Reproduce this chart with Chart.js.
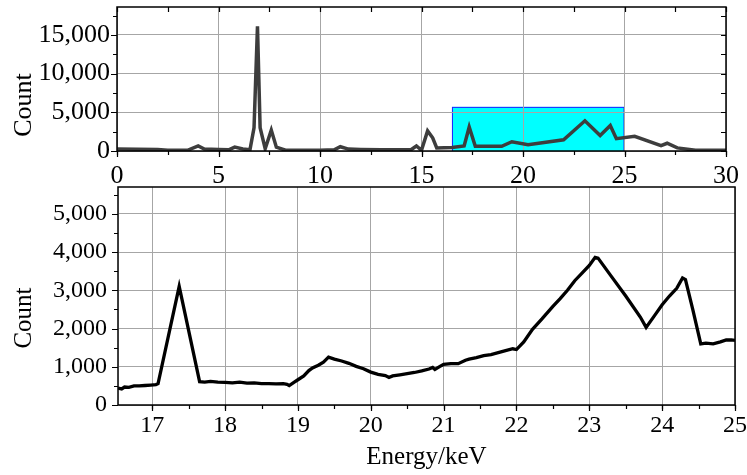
<!DOCTYPE html>
<html>
<head>
<meta charset="utf-8">
<script src="https://cdn.jsdelivr.net/npm/chart.js@4.4.1/dist/chart.umd.min.js"></script>
<style>
  body { margin: 0; background: #fff; }
  #wrap { position: relative; width: 747px; height: 475px; }
  #overview { position: absolute; left: 0; top: 0; }
  #detail { position: absolute; left: 0; top: 180px; }
</style>
</head>
<body>
<div id="wrap">
  <canvas id="overview" width="747" height="190"></canvas>
  <canvas id="detail" width="747" height="295"></canvas>
</div>
<script>
// full spectrum (top panel)
const energyOverview = [0, 1, 2, 2.5, 3.5, 4.0, 4.3, 5.0, 5.5, 5.8, 6.2, 6.55, 6.75, 6.92, 7.05, 7.3, 7.6, 7.85, 8.3,
  10, 10.7, 11.0, 11.4, 12, 13, 14.0, 14.5, 14.75, 15.0, 15.3, 15.55, 15.75, 16.5, 17.1, 17.35, 17.65, 18.95,
  19.45, 20.25, 22.0, 23.05, 23.8, 24.3, 24.6, 25.5, 26.8, 27.1, 27.6, 28.5, 30];
const countOverview = [250, 230, 180, 100, 120, 650, 250, 200, 150, 500, 250, 150, 3000, 16100, 3000, 300, 2700, 500, 100,
  100, 150, 550, 250, 200, 150, 150, 200, 650, 100, 2600, 1700, 400, 450, 650, 3100, 600, 600,
  1200, 800, 1450, 3900, 2000, 3300, 1600, 1900, 700, 1000, 400, 100, 100];

// zoomed region (bottom panel)
const energyZoom = [16.53, 16.58, 16.62, 16.68, 16.75, 16.82, 16.9, 16.98, 17.05, 17.08, 17.37, 17.65, 17.72, 17.8, 17.9,
  18.0, 18.1, 18.2, 18.3, 18.4, 18.5, 18.6, 18.7, 18.8, 18.85, 18.88, 18.95, 19.0, 19.08, 19.15, 19.2, 19.28, 19.35,
  19.42, 19.5, 19.6, 19.7, 19.8, 19.9, 20.0, 20.1, 20.2, 20.25, 20.3, 20.4, 20.5, 20.6, 20.7, 20.8, 20.85, 20.88,
  20.95, 21.0, 21.1, 21.2, 21.3, 21.35, 21.45, 21.55, 21.65, 21.75, 21.85, 21.95, 22.0, 22.1, 22.22, 22.35, 22.5,
  22.6, 22.7, 22.8, 22.9, 23.0, 23.08, 23.12, 23.3, 23.5, 23.7, 23.78, 23.9, 24.0, 24.1, 24.2, 24.28, 24.32, 24.42,
  24.53, 24.6, 24.7, 24.8, 24.88, 24.95, 25.0];
const countZoom = [440, 420, 470, 460, 500, 500, 510, 520, 530, 560, 3100, 610, 600, 620, 600,
  590, 580, 600, 570, 580, 560, 560, 550, 560, 540, 510, 600, 660, 760, 900, 970, 1040, 1120,
  1250, 1200, 1150, 1090, 1010, 950, 860, 800, 770, 720, 760, 790, 820, 850, 890, 940, 980, 930,
  1010, 1060, 1080, 1080, 1170, 1200, 1240, 1290, 1320, 1370, 1420, 1470, 1450, 1650, 1980, 2250, 2580,
  2780, 3000, 3250, 3450, 3650, 3860, 3840, 3370, 2850, 2300, 2030, 2350, 2620, 2850, 3050, 3320, 3280, 2500,
  1600, 1620, 1600, 1650, 1700, 1700, 1690];

// tick labels
const xTicksOverview = [0, 5, 10, 15, 20, 25, 30];
const yTicksOverview = [0, 5000, 10000, 15000];
const xTicksZoom = [17, 18, 19, 20, 21, 22, 23, 24, 25];
const yTicksZoom = [0, 1000, 2000, 3000, 4000, 5000];

// highlighted window shown in the overview
const zoomRange = [16.5, 25];
const zoomTop = 5700;

const FONT = '"Liberation Serif", "Times New Roman", serif';
const GRID = '#a6a6a6';
Chart.defaults.font.family = FONT;
Chart.defaults.color = '#000';

function toPoints(xs, ys) {
  return xs.map((x, i) => ({ x: x, y: ys[i] }));
}

function fixedTicks(values) {
  return (scale) => { scale.ticks = values.map((v) => ({ value: v })); };
}

// keep the plot area where the layout padding puts it
function noPad(s) {
  s.paddingTop = 0; s.paddingBottom = 0; s.paddingLeft = 0; s.paddingRight = 0;
}

function fmt(v) {
  return Number(v).toLocaleString('en-US');
}

// tick marks along one edge; dir = +1 outward / -1 inward
function edgeTicks(ctx, scale, step, len, edge, area, dir) {
  const lo = Math.ceil(scale.min / step - 1e-9);
  const hi = Math.floor(scale.max / step + 1e-9);
  ctx.beginPath();
  for (let k = lo; k <= hi; k++) {
    const p = Math.round(scale.getPixelForValue(k * step)) + 0.5;
    if (edge === 'bottom') { ctx.moveTo(p, area.bottom); ctx.lineTo(p, area.bottom + dir * len); }
    if (edge === 'top') { ctx.moveTo(p, area.top); ctx.lineTo(p, area.top - dir * len); }
    if (edge === 'left') { ctx.moveTo(area.left, p); ctx.lineTo(area.left - dir * len, p); }
    if (edge === 'right') { ctx.moveTo(area.right, p); ctx.lineTo(area.right + dir * len, p); }
  }
  ctx.stroke();
}

function framePlugin(cfg) {
  return {
    id: 'frame',
    afterDraw(chart) {
      const ctx = chart.ctx;
      const a = chart.chartArea;
      const x = chart.scales.x, y = chart.scales.y;
      ctx.save();
      ctx.strokeStyle = '#000';
      ctx.lineWidth = 1.5;
      ctx.strokeRect(a.left, a.top, a.right - a.left, a.bottom - a.top);
      ctx.lineWidth = 1.2;
      edgeTicks(ctx, x, cfg.xMajor, 6, 'bottom', a, 1);
      edgeTicks(ctx, x, cfg.xMinor, 4, 'bottom', a, 1);
      edgeTicks(ctx, y, cfg.yMajor, 6, 'left', a, 1);
      edgeTicks(ctx, y, cfg.yMinor, 4, 'left', a, 1);
      if (cfg.mirror) {
        edgeTicks(ctx, x, cfg.xMinor, 5, 'top', a, -1);
        edgeTicks(ctx, y, cfg.yMinor, 5, 'right', a, -1);
      }
      // y title
      ctx.fillStyle = '#000';
      ctx.font = cfg.titleSize + 'px ' + FONT;
      ctx.textAlign = 'center';
      ctx.textBaseline = 'middle';
      ctx.translate(cfg.titleX, cfg.titleY);
      ctx.rotate(-Math.PI / 2);
      ctx.fillText('Count', 0, 0);
      ctx.restore();
    }
  };
}

const windowPlugin = {
  id: 'zoomWindow',
  beforeDraw(chart) {
    const ctx = chart.ctx;
    const x = chart.scales.x, y = chart.scales.y;
    const x0 = x.getPixelForValue(zoomRange[0]);
    const x1 = x.getPixelForValue(zoomRange[1]);
    const y0 = y.getPixelForValue(0);
    const y1 = y.getPixelForValue(zoomTop);
    ctx.save();
    ctx.fillStyle = '#00ffff';
    ctx.fillRect(x0, y1, x1 - x0, y0 - y1);
    ctx.strokeStyle = '#2020ff';
    ctx.lineWidth = 1;
    ctx.strokeRect(x0 + 0.5, y1 + 0.5, x1 - x0 - 1, y0 - y1);
    ctx.restore();
  }
};

// top panel
new Chart(document.getElementById('overview'), {
  type: 'line',
  data: {
    datasets: [{
      data: toPoints(energyOverview, countOverview),
      borderColor: '#3d3d3d',
      borderWidth: 3.5,
      pointRadius: 0,
      tension: 0
    }]
  },
  options: {
    responsive: false,
    animation: false,
    devicePixelRatio: 1,
    layout: { padding: { top: 7, right: 21, left: 0, bottom: 0 } },
    plugins: { legend: { display: false }, tooltip: { enabled: false } },
    scales: {
      x: {
        type: 'linear',
        min: 0,
        max: 30,
        afterBuildTicks: fixedTicks(xTicksOverview),
        afterFit: (s) => { s.height = 39; noPad(s); },
        grid: { color: GRID, lineWidth: 1, drawTicks: false },
        ticks: { padding: 10, font: { size: 26 }, maxRotation: 0, autoSkip: false }
      },
      y: {
        min: 0,
        max: 18600,
        afterBuildTicks: fixedTicks(yTicksOverview),
        afterFit: (s) => { s.width = 117; noPad(s); },
        grid: { color: GRID, lineWidth: 1, drawTicks: false },
        ticks: { padding: 7, autoSkip: false, font: { size: 26 }, callback: (v) => fmt(v) }
      }
    }
  },
  plugins: [windowPlugin, framePlugin({ xMajor: 5, xMinor: 2.5, yMajor: 5000, yMinor: 2500, mirror: true, titleX: 24, titleY: 105, titleSize: 26 })]
});

// bottom panel
new Chart(document.getElementById('detail'), {
  type: 'line',
  data: {
    datasets: [{
      data: toPoints(energyZoom, countZoom),
      borderColor: '#000',
      borderWidth: 3.3,
      pointRadius: 0,
      tension: 0
    }]
  },
  options: {
    responsive: false,
    animation: false,
    devicePixelRatio: 1,
    layout: { padding: { top: 7, right: 12, left: 0, bottom: 0 } },
    plugins: { legend: { display: false }, tooltip: { enabled: false } },
    scales: {
      x: {
        type: 'linear',
        min: zoomRange[0] + 0.03,
        max: zoomRange[1],
        afterBuildTicks: fixedTicks(xTicksZoom),
        afterFit: (s) => { s.height = 70; noPad(s); },
        grid: { color: GRID, lineWidth: 1, drawTicks: false },
        ticks: { padding: 6, font: { size: 24 }, maxRotation: 0, autoSkip: false },
        title: { display: true, text: 'Energy/keV', font: { size: 25 }, padding: { top: 0, bottom: 3 } }
      },
      y: {
        min: 0,
        max: 5700,
        afterBuildTicks: fixedTicks(yTicksZoom),
        afterFit: (s) => { s.width = 118; noPad(s); },
        grid: { color: GRID, lineWidth: 1, drawTicks: false },
        ticks: { padding: 11, autoSkip: false, font: { size: 24 }, callback: (v) => fmt(v) }
      }
    }
  },
  plugins: [framePlugin({ xMajor: 1, xMinor: 0.5, yMajor: 1000, yMinor: 500, mirror: false, titleX: 24, titleY: 138, titleSize: 25 })]
});
</script>
</body>
</html>
